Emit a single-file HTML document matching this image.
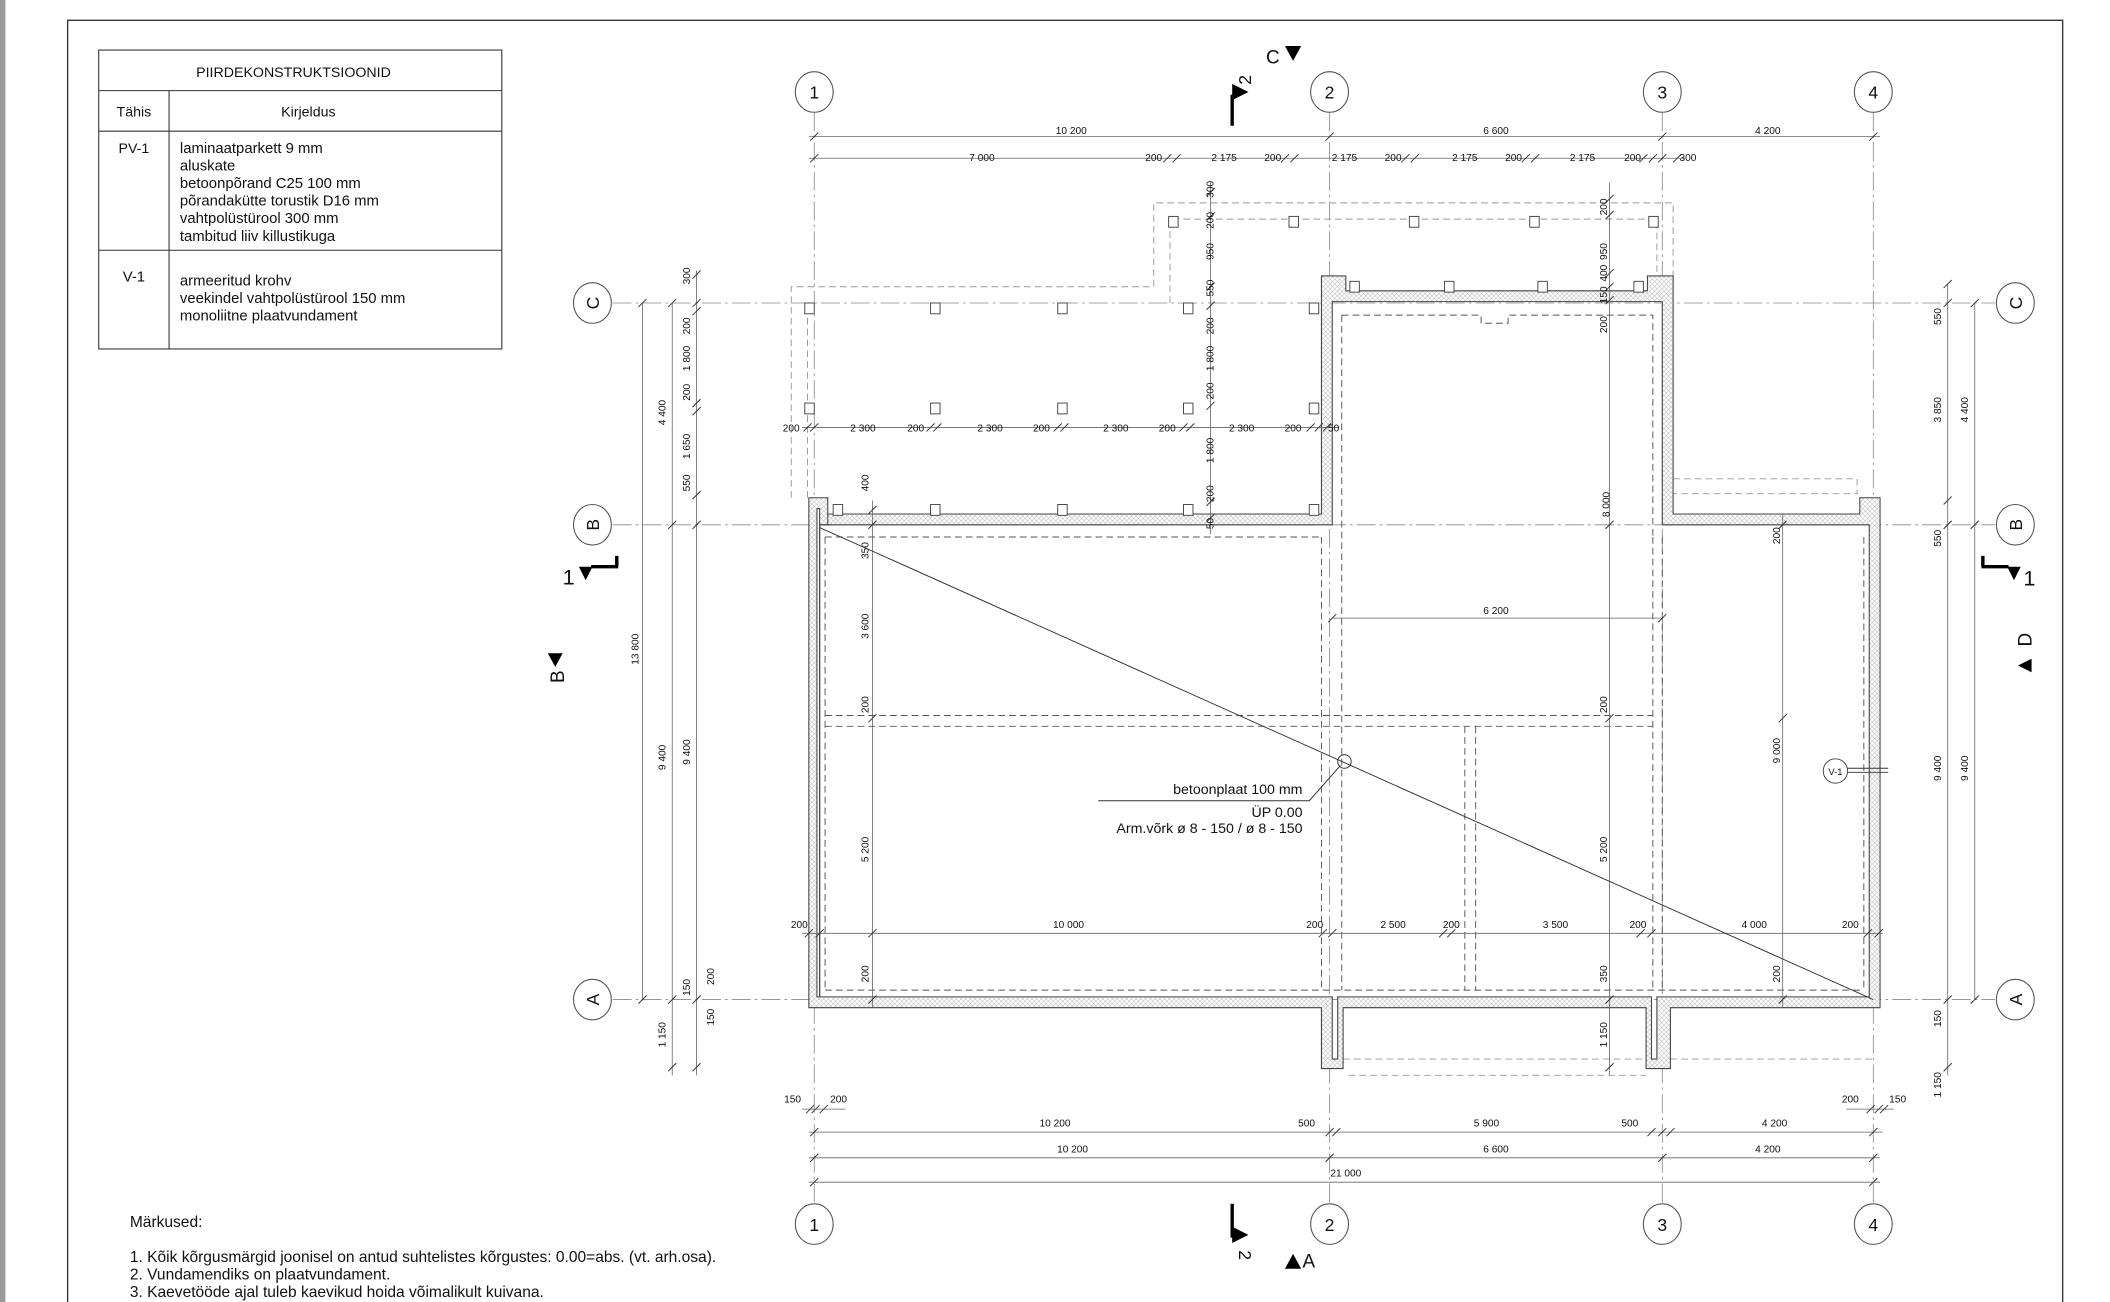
<!DOCTYPE html>
<html><head><meta charset="utf-8"><style>
html,body{margin:0;padding:0;background:#fff}
svg{display:block}
text{font-family:"Liberation Sans",Arial,sans-serif;fill:#111}
.d{font-size:7.5px}
.g{stroke:#888;stroke-width:.6;fill:none;stroke-dasharray:14 3 2 3}
.t{stroke:#666;stroke-width:.6;fill:none}
.k{stroke:#333;stroke-width:.7;fill:none}
.ds{stroke:#555;stroke-width:.7;fill:none;stroke-dasharray:5 3}
.dl{stroke:#999;stroke-width:.7;fill:none;stroke-dasharray:5 3}
.w{fill:url(#h);stroke:#444;stroke-width:.8}
.p{fill:#fff;stroke:#444;stroke-width:.7}
</style></head><body>
<svg width="2110" height="1302" viewBox="0 0 1560 962.6" preserveAspectRatio="none" xmlns="http://www.w3.org/2000/svg">
<defs>
<pattern id="h" width="3.5" height="3.5" patternUnits="userSpaceOnUse">
<rect width="3.5" height="3.5" fill="#fff"/><path d="M0 0L3.5 3.5M3.5 0L0 3.5" stroke="#bbb" stroke-width=".4"/>
</pattern>
</defs>
<rect x="0" y="0" width="4" height="963" fill="#999"/>
<path d="M50 963V15H1525V963" stroke="#333" stroke-width="1" fill="none"/>

<!-- table -->
<g stroke="#333" stroke-width=".8" fill="none">
<rect x="73" y="37" width="298" height="221"/>
<path d="M73 67H371M73 97H371M73 185H371M125 67V258"/>
</g>
<text x="217" y="57" font-size="10.5" text-anchor="middle">PIIRDEKONSTRUKTSIOONID</text>
<text x="99" y="86" font-size="10.5" text-anchor="middle">Tähis</text>
<text x="228" y="86" font-size="10.5" text-anchor="middle">Kirjeldus</text>
<text x="99" y="113" font-size="10.5" text-anchor="middle">PV-1</text>
<g font-size="11">
<text x="133" y="113">laminaatparkett 9 mm</text>
<text x="133" y="126">aluskate</text>
<text x="133" y="139">betoonpõrand C25  100 mm</text>
<text x="133" y="152">põrandakütte torustik D16 mm</text>
<text x="133" y="165">vahtpolüstürool 300 mm</text>
<text x="133" y="178">tambitud liiv killustikuga</text>
<text x="99" y="208" text-anchor="middle">V-1</text>
<text x="133" y="211">armeeritud krohv</text>
<text x="133" y="224">veekindel vahtpolüstürool 150 mm</text>
<text x="133" y="237">monoliitne plaatvundament</text>
</g>

<!-- grid lines -->
<path class="g" d="M602 83V890M983 83V890M1229 83V890M1385 83V890M453 224H1475M453 388H1475M453 739H1475"/>
<g fill="#fff" stroke="#555" stroke-width=".8">
<ellipse cx="602" cy="68" rx="14" ry="15"/><ellipse cx="983" cy="68" rx="14" ry="15"/><ellipse cx="1229" cy="68" rx="14" ry="15"/><ellipse cx="1385" cy="68" rx="14" ry="15"/>
<ellipse cx="602" cy="905" rx="14" ry="15"/><ellipse cx="983" cy="905" rx="14" ry="15"/><ellipse cx="1229" cy="905" rx="14" ry="15"/><ellipse cx="1385" cy="905" rx="14" ry="15"/>
<ellipse cx="438" cy="224" rx="14" ry="15"/><ellipse cx="438" cy="388" rx="14" ry="15"/><ellipse cx="438" cy="739" rx="14" ry="15"/>
<ellipse cx="1490" cy="224" rx="14" ry="15"/><ellipse cx="1490" cy="388" rx="14" ry="15"/><ellipse cx="1490" cy="739" rx="14" ry="15"/>
</g>
<g font-size="13" text-anchor="middle">
<text x="602" y="73">1</text><text x="983" y="73">2</text><text x="1229" y="73">3</text><text x="1385" y="73">4</text>
<text x="602" y="910">1</text><text x="983" y="910">2</text><text x="1229" y="910">3</text><text x="1385" y="910">4</text>
<text transform="translate(443,224) rotate(-90)">C</text><text transform="translate(443,388) rotate(-90)">B</text><text transform="translate(443,739) rotate(-90)">A</text>
<text transform="translate(1495,224) rotate(-90)">C</text><text transform="translate(1495,388) rotate(-90)">B</text><text transform="translate(1495,739) rotate(-90)">A</text>
</g>

<!-- dashed foundation outlines -->
<path class="dl" d="M585 368V212H853V150H1237V205M597 368V224M865 224V162H1225V205"/>
<path class="ds" d="M610 397H977M610 397V732M610 732H1378M1378 397V732M610 529H1222M610 537H1222M1083 537V732M1091 537V732M1222 397V732M1229 397V732M977 397V732M992 233V732M992 233H1095V239H1115V233H1222V397"/>
<path class="dl" d="M1237 354H1373V365H1237M993 783H1217M997 795H1217M1235 783H1385"/>

<!-- walls -->
<path class="w" d="M598 745V368H612V380H977V204H995V215H1218V204H1237V380H1375V368H1390V745H1235V790H1217V745H993V790H977V745Z
M606 737V376H604V737ZM614 388H985V223H1229V388H1382V737H1225V783H1221V737H989V783H985V737H606V388Z" fill-rule="evenodd"/>
<path d="M606 737V388H614M612 380V388" stroke="#444" stroke-width=".8" fill="none"/>

<!-- posts -->
<g class="p">
<rect x="595" y="224" width="7" height="8"/><rect x="688" y="224" width="7" height="8"/><rect x="782" y="224" width="7" height="8"/><rect x="875" y="224" width="7" height="8"/><rect x="968" y="224" width="7" height="8"/>
<rect x="595" y="298" width="7" height="8"/><rect x="688" y="298" width="7" height="8"/><rect x="782" y="298" width="7" height="8"/><rect x="875" y="298" width="7" height="8"/><rect x="968" y="298" width="7" height="8"/>
<rect x="616" y="373" width="7" height="8"/><rect x="688" y="373" width="7" height="8"/><rect x="782" y="373" width="7" height="8"/><rect x="875" y="373" width="7" height="8"/><rect x="968" y="373" width="7" height="8"/>
<rect x="864" y="160" width="7" height="8"/><rect x="953" y="160" width="7" height="8"/><rect x="1042" y="160" width="7" height="8"/><rect x="1131" y="160" width="7" height="8"/><rect x="1219" y="160" width="7" height="8"/>
<rect x="998" y="208" width="7" height="8"/><rect x="1068" y="208" width="7" height="8"/><rect x="1137" y="208" width="7" height="8"/><rect x="1208" y="208" width="7" height="8"/>
</g>

<!-- dimension lines -->
<path class="t" d="M598 101H1390M598 117H1245M598 837H1392M598 856H1390M598 874H1390
M475 224V739M497 224V795M515 200V795M1440 210V795M1460 224V739
M645 370V745M1190 135V795M895 135V395M1318 380V745M593 316H990M593 690H1392M985 457H1229M593 820H625M1365 820H1400"/>
<g class="k">
<path d="M599 104l6-6M980 104l6-6M1226 104l6-6M1382 104l6-6
M599 120l6-6M860 120l6-6M867 120l6-6M947 120l6-6M954 120l6-6M1036 120l6-6M1043 120l6-6M1125 120l6-6M1132 120l6-6M1212 120l6-6M1219 120l6-6M1226 120l6-6M1237 120l6-6
M599 840l6-6M980 840l6-6M1226 840l6-6M1382 840l6-6M985 840l6-6M1218 840l6-6M1232 840l6-6
M599 859l6-6M980 859l6-6M1226 859l6-6M1382 859l6-6M599 877l6-6M1382 877l6-6
M596 823l6-6M600 823l6-6M606 823l6-6M1380 823l6-6M1386 823l6-6M1390 823l6-6
M472 227l6-6M472 742l6-6M494 227l6-6M494 391l6-6M494 742l6-6M494 792l6-6
M512 206l6-6M512 227l6-6M512 233l6-6M512 301l6-6M512 307l6-6M512 369l6-6M512 391l6-6M512 742l6-6M512 792l6-6
M1437 213l6-6M1437 227l6-6M1437 373l6-6M1437 391l6-6M1437 742l6-6M1437 792l6-6M1457 227l6-6M1457 391l6-6M1457 742l6-6
M642 391l6-6M642 380l6-6M642 534l6-6M642 742l6-6M642 693l6-6
M1187 150l6-6M1187 162l6-6M1187 205l6-6M1187 215l6-6M1187 225l6-6M1187 391l6-6M1187 534l6-6M1187 742l6-6M1187 792l6-6
M892 145l6-6M892 163l6-6M892 215l6-6M892 229l6-6M892 303l6-6M892 374l6-6M892 386l6-6
M1315 391l6-6M1315 534l6-6M1315 742l6-6
M594 319l6-6M599 319l6-6M685 319l6-6M690 319l6-6M779 319l6-6M784 319l6-6M872 319l6-6M877 319l6-6M966 319l6-6M972 319l6-6M978 319l6-6
M595 693l6-6M603 693l6-6M975 693l6-6M982 693l6-6M1064 693l6-6M1070 693l6-6M1210 693l6-6M1218 693l6-6M1378 693l6-6M1386 693l6-6
M982 460l6-6M1226 460l6-6"/>
</g>
<g class="d" text-anchor="middle">
<text x="792" y="99">10 200</text><text x="1106" y="99">6 600</text><text x="1307" y="99">4 200</text>
<text x="726" y="119">7 000</text><text x="853" y="119">200</text><text x="905" y="119">2 175</text><text x="941" y="119">200</text><text x="994" y="119">2 175</text><text x="1030" y="119">200</text><text x="1083" y="119">2 175</text><text x="1119" y="119">200</text><text x="1170" y="119">2 175</text><text x="1207" y="119">200</text><text x="1248" y="119">300</text>
<text x="585" y="319">200</text><text x="638" y="319">2 300</text><text x="677" y="319">200</text><text x="732" y="319">2 300</text><text x="770" y="319">200</text><text x="825" y="319">2 300</text><text x="863" y="319">200</text><text x="918" y="319">2 300</text><text x="956" y="319">200</text><text x="986" y="319">50</text>
<text x="591" y="686">200</text><text x="790" y="686">10 000</text><text x="972" y="686">200</text><text x="1030" y="686">2 500</text><text x="1073" y="686">200</text><text x="1150" y="686">3 500</text><text x="1211" y="686">200</text><text x="1297" y="686">4 000</text><text x="1368" y="686">200</text>
<text x="1106" y="454">6 200</text>
<text x="586" y="815">150</text><text x="620" y="815">200</text><text x="1368" y="815">200</text><text x="1403" y="815">150</text>
<text x="780" y="833">10 200</text><text x="966" y="833">500</text><text x="1099" y="833">5 900</text><text x="1205" y="833">500</text><text x="1312" y="833">4 200</text>
<text x="793" y="852">10 200</text><text x="1106" y="852">6 600</text><text x="1307" y="852">4 200</text>
<text x="995" y="870">21 000</text>
</g>
<g class="d" text-anchor="middle">
<text transform="translate(492,305) rotate(-90)">4 400</text>
<text transform="translate(472,480) rotate(-90)">13 800</text>
<text transform="translate(492,560) rotate(-90)">9 400</text>
<text transform="translate(492,765) rotate(-90)">1 150</text>
<text transform="translate(510,204) rotate(-90)">300</text>
<text transform="translate(510,241) rotate(-90)">200</text>
<text transform="translate(510,265) rotate(-90)">1 800</text>
<text transform="translate(510,290) rotate(-90)">200</text>
<text transform="translate(510,330) rotate(-90)">1 650</text>
<text transform="translate(510,357) rotate(-90)">550</text>
<text transform="translate(510,556) rotate(-90)">9 400</text>
<text transform="translate(510,730) rotate(-90)">150</text>
<text transform="translate(528,722) rotate(-90)">200</text>
<text transform="translate(528,752) rotate(-90)">150</text>
<text transform="translate(1435,234) rotate(-90)">550</text>
<text transform="translate(1435,303) rotate(-90)">3 850</text>
<text transform="translate(1455,303) rotate(-90)">4 400</text>
<text transform="translate(1435,398) rotate(-90)">550</text>
<text transform="translate(1435,568) rotate(-90)">9 400</text>
<text transform="translate(1455,568) rotate(-90)">9 400</text>
<text transform="translate(1435,753) rotate(-90)">150</text>
<text transform="translate(1435,802) rotate(-90)">1 150</text>
<text transform="translate(642,357) rotate(-90)">400</text>
<text transform="translate(642,407) rotate(-90)">350</text>
<text transform="translate(642,463) rotate(-90)">3 600</text>
<text transform="translate(642,521) rotate(-90)">200</text>
<text transform="translate(642,628) rotate(-90)">5 200</text>
<text transform="translate(642,720) rotate(-90)">200</text>
<text transform="translate(897,140) rotate(-90)">300</text>
<text transform="translate(897,163) rotate(-90)">200</text>
<text transform="translate(897,186) rotate(-90)">950</text>
<text transform="translate(897,213) rotate(-90)">550</text>
<text transform="translate(897,241) rotate(-90)">200</text>
<text transform="translate(897,265) rotate(-90)">1 800</text>
<text transform="translate(897,289) rotate(-90)">200</text>
<text transform="translate(897,333) rotate(-90)">1 800</text>
<text transform="translate(897,365) rotate(-90)">200</text>
<text transform="translate(897,387) rotate(-90)">50</text>
<text transform="translate(1188,153) rotate(-90)">200</text>
<text transform="translate(1188,186) rotate(-90)">950</text>
<text transform="translate(1188,202) rotate(-90)">400</text>
<text transform="translate(1188,218) rotate(-90)">150</text>
<text transform="translate(1188,240) rotate(-90)">200</text>
<text transform="translate(1190,373) rotate(-90)">8 000</text>
<text transform="translate(1188,521) rotate(-90)">200</text>
<text transform="translate(1188,628) rotate(-90)">5 200</text>
<text transform="translate(1188,720) rotate(-90)">350</text>
<text transform="translate(1188,765) rotate(-90)">1 150</text>
<text transform="translate(1316,396) rotate(-90)">200</text>
<text transform="translate(1316,555) rotate(-90)">9 000</text>
<text transform="translate(1316,720) rotate(-90)">200</text>
</g>

<!-- diagonal & labels -->
<path class="k" d="M606 390L1385 739"/>
<circle cx="994" cy="563" r="5" fill="none" stroke="#333" stroke-width=".7"/>
<path class="k" d="M812 592H968L991 566"/>
<g font-size="10.5" text-anchor="end">
<text x="963" y="587">betoonplaat 100 mm</text>
<text x="963" y="604">ÜP  0.00</text>
<text x="963" y="616">Arm.võrk ø 8 - 150 / ø 8 - 150</text>
</g>
<circle cx="1357" cy="570" r="9" fill="#fff" stroke="#444" stroke-width=".7"/>
<text x="1357" y="573" font-size="7" text-anchor="middle">V-1</text>
<path class="k" d="M1366 568H1396M1366 571H1396"/>

<!-- section markers -->
<text x="936" y="47" font-size="14">C</text><path d="M950 34h12l-6 11z" fill="#000"/>
<path d="M911 93V70" stroke="#000" stroke-width="2.5"/><path d="M911 62l12 6-12 6z" fill="#000"/>
<text transform="translate(925,59) rotate(-90)" font-size="13" text-anchor="middle">2</text>
<path d="M911 890v25" stroke="#000" stroke-width="2.5"/><path d="M911 907l12 6-12 6z" fill="#000"/>
<text transform="translate(916,928) rotate(90)" font-size="13" text-anchor="middle">2</text>
<path d="M950 938h12l-6-11z" fill="#000"/><text x="963" y="937" font-size="14">A</text>
<text x="416" y="432" font-size="16" font-family="Liberation Serif,serif">1</text>
<path d="M428 419h10l-5 10z" fill="#000"/><path d="M437 419h20M456 419v-8" stroke="#000" stroke-width="2.5" fill="none"/>
<text x="1496" y="433" font-size="16" font-family="Liberation Serif,serif">1</text>
<path d="M1484 419h10l-5 10z" fill="#000"/><path d="M1465 419h20M1466 419v-8" stroke="#000" stroke-width="2.5" fill="none"/>
<text transform="translate(417,505) rotate(-90)" font-size="14">B</text><path d="M405 483h11l-5.5 10z" fill="#000"/>
<text transform="translate(1502,478) rotate(-90)" font-size="14">D</text><path d="M1492 492l10-5v10z" fill="#000"/>

<!-- notes -->
<g font-size="11.5">
<text x="96" y="907">Märkused:</text>
<text x="96" y="933">1. Kõik kõrgusmärgid joonisel on antud suhtelistes kõrgustes:  0.00=abs. (vt. arh.osa).</text>
<text x="96" y="946">2. Vundamendiks on plaatvundament.</text>
<text x="96" y="959">3. Kaevetööde ajal tuleb kaevikud hoida võimalikult kuivana.</text>
<text x="96" y="971">4. Betoonkonstruktsioonid kuuluvad 1. tolerantsiklassi.</text>
</g>
</svg>
</body></html>
